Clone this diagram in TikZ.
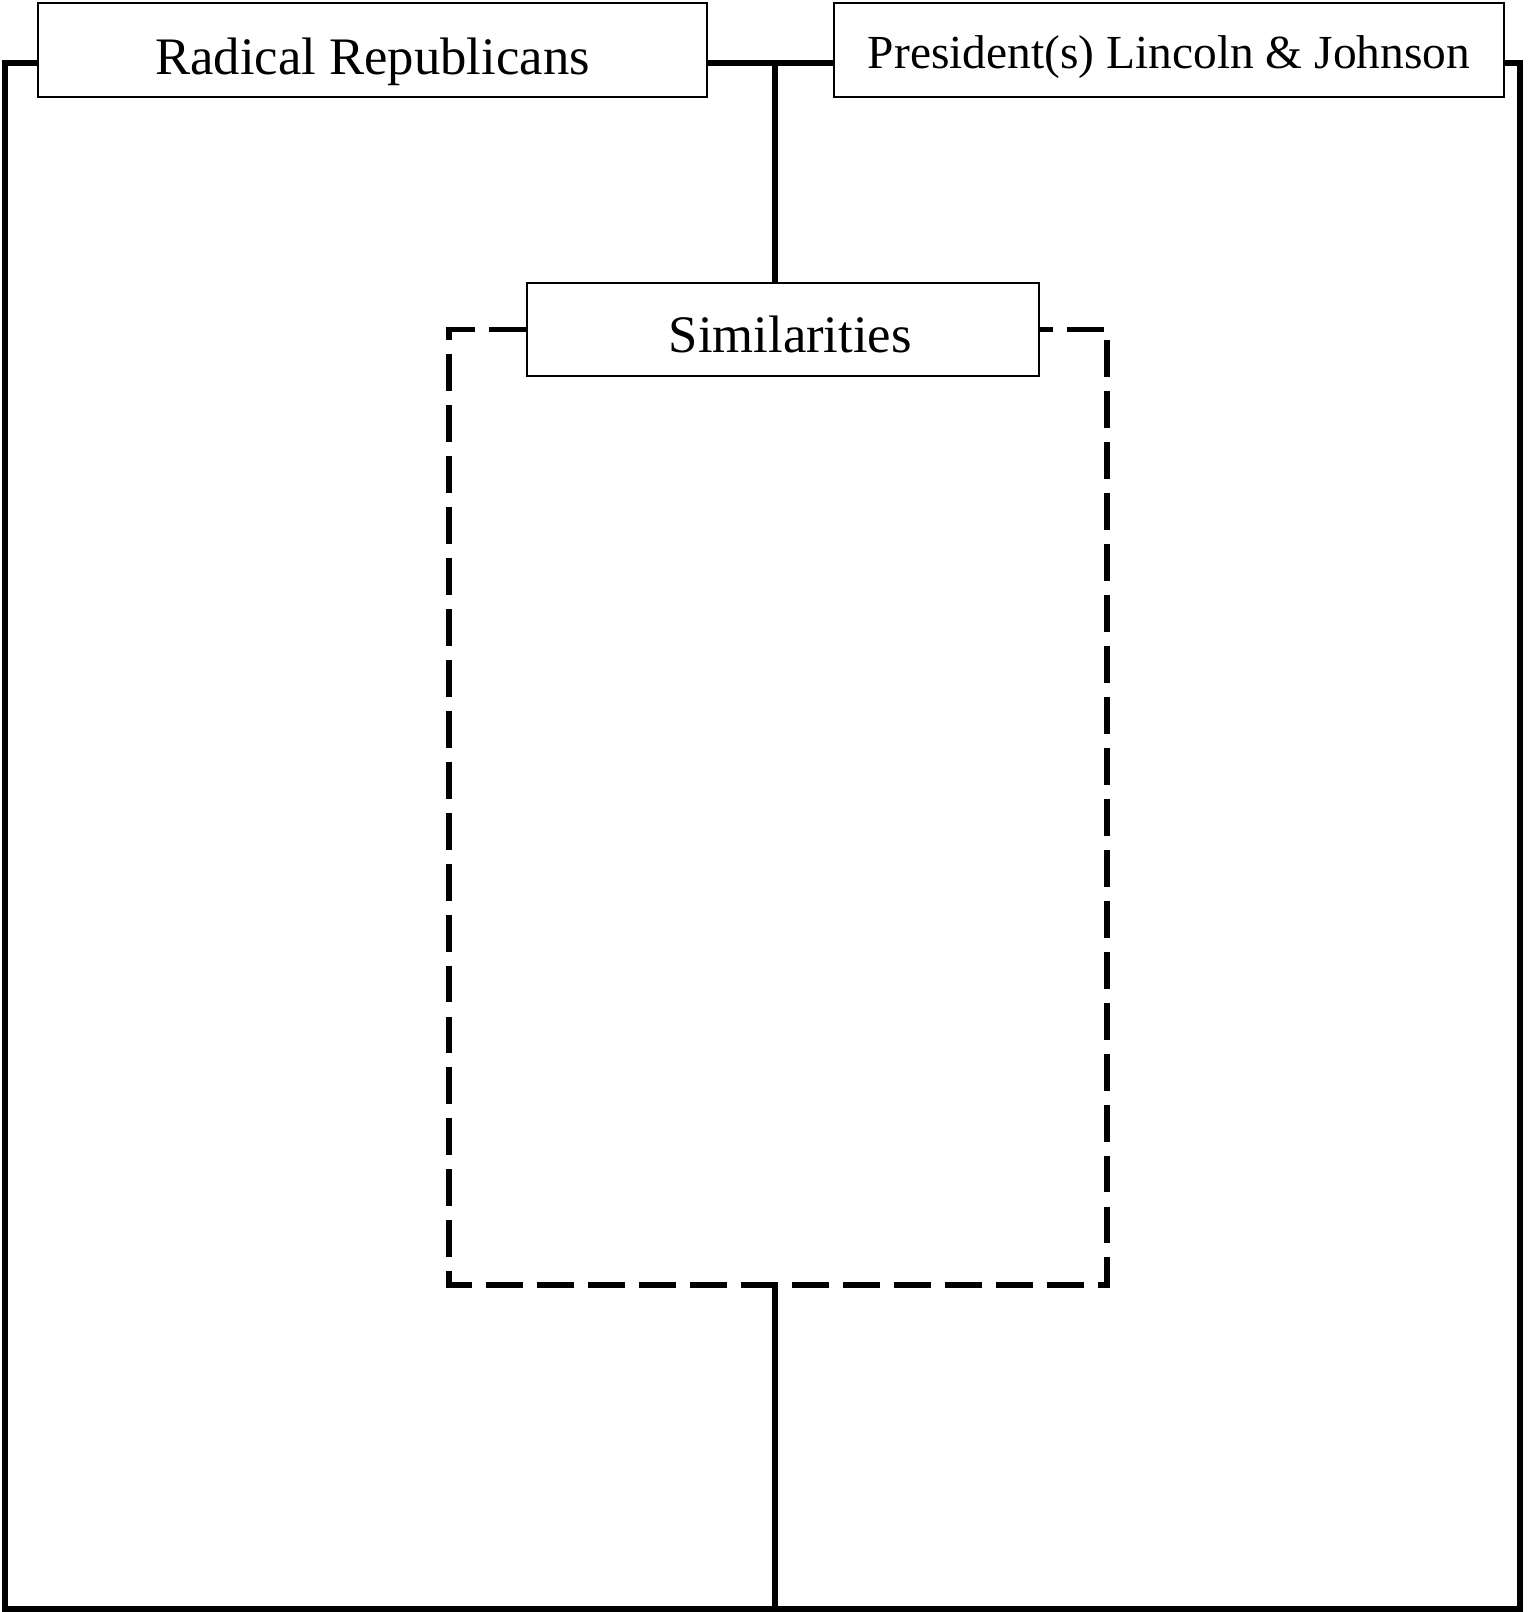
\documentclass[tikz,border=0pt]{standalone}
\usepackage{fontspec}
\setmainfont{Liberation Serif}
\usepackage{tikz}
\usetikzlibrary{positioning}

\begin{document}
\begin{tikzpicture}[
    x=0.02cm, y=-0.02cm,
    titlebox/.style={draw, line width=0.9pt, minimum height=1.88cm, inner sep=0pt,
                     text depth=0pt, text centered, font=\fontsize{30}{36}\selectfont},
    frame/.style={line width=3pt},
    simline/.style={line width=3pt, dash pattern=on 21pt off 8pt},
]
\useasboundingbox (0,0) rectangle (1532,1612);

%% Titel-Kaesten
\node[titlebox, minimum width=13.38cm, text height=27.5pt] at (372.5,50) (radical) {Radical Republicans};
\node[titlebox, minimum width=13.4cm, text height=21.5pt,
      font=\fontsize{27}{33}\selectfont] at (1169,50) (president) {President(s) Lincoln \& Johnson};
\node[titlebox, minimum width=10.24cm, minimum height=1.86cm, text height=26pt] at (783,329.5) (similar) {\hspace*{0.29cm}Similarities};

%% Eckpunkte des Rahmens
\coordinate (topleft)  at (5,63);
\coordinate (topright) at (1520,63);
\coordinate (botleft)  at (5,1609);
\coordinate (botright) at (1520,1609);
\coordinate (topmid)   at (775,63);
\coordinate (botmid)   at (775,1609);
\coordinate (simleft)  at (449,1285);
\coordinate (simright) at (1107,1285);
\coordinate (simmid)   at (775,1285);

%% Rahmen
\draw[frame] (radical.west |- topleft) -- (topleft) -- (botleft) -- (botright) -- (topright) -- (president.east |- topright);
\draw[frame] (radical.east |- topmid) -- (president.west |- topmid);
\draw[frame] (topmid) -- (topmid |- similar.north);
\draw[frame] (simmid) -- (botmid);

%% Gemeinsamkeiten
\draw[simline] (similar.west) -| (simleft) -- (simright) |- (similar.east);

\end{tikzpicture}
\end{document}
